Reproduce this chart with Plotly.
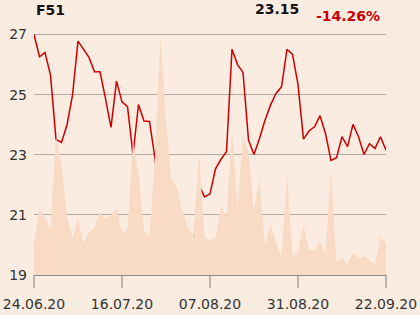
import plotly.graph_objects as go

# Trading-day index positions (65 sessions from 24.06.20 to 22.09.20)
tick_labels = ["24.06.20", "16.07.20", "07.08.20", "31.08.20", "22.09.20"]
tick_index = [0, 16, 32, 48, 64]

price = [27.0, 26.26, 26.40, 25.65, 23.51, 23.41, 23.99, 24.98, 26.78, 26.53,
         26.24, 25.76, 25.76, 24.87, 23.91, 25.45, 24.76, 24.60, 23.00, 24.67,
         24.12, 24.11, 22.88, 21.27, 20.20, 21.00, 19.20, 19.78, 19.91, 19.98,
         21.99, 21.60, 21.70, 22.53, 22.85, 23.10, 26.51, 26.00, 25.74, 23.49,
         23.01, 23.54, 24.15, 24.65, 25.04, 25.26, 26.51, 26.34, 25.34, 23.52,
         23.79, 23.93, 24.30, 23.71, 22.81, 22.90, 23.60, 23.27, 24.01, 23.60,
         23.01, 23.37, 23.21, 23.60, 23.15]

volume = [32, 67, 57, 45, 138, 110, 58, 37, 56, 32,
          43, 47, 63, 56, 60, 67, 42, 45, 133, 103,
          45, 39, 117, 238, 153, 96, 87, 63, 47, 38,
          122, 38, 34, 38, 68, 59, 145, 68, 139, 123,
          65, 97, 30, 51, 32, 18, 99, 18, 23, 50,
          25, 24, 33, 21, 105, 13, 17, 10, 22, 17,
          19, 15, 11, 38, 32]

y_ticks = [19, 21, 23, 25, 27]
idx = list(range(len(price)))
x_range = [0, len(price) - 1]

BG = "#fbece1"
fig = go.Figure()
fig.add_trace(go.Scatter(x=idx, y=volume, yaxis="y2", mode="lines",
                         line=dict(width=0, color="#f8dac5"), fill="tozeroy",
                         fillcolor="#f8dac5", hoverinfo="skip"))
fig.add_trace(go.Scatter(x=idx, y=price, mode="lines",
                         line=dict(color="#cc0000", width=1.5)))

# tick marks below the x axis (paper coordinates derived from the axis range)
for t in tick_index:
    xp = (t - x_range[0]) / (x_range[1] - x_range[0])
    fig.add_shape(type="line", xref="paper", yref="paper", x0=xp, x1=xp,
                  y0=0, y1=-0.053, line=dict(color="#7a7a7a", width=1))

fig.update_layout(
    width=420, height=315, paper_bgcolor=BG, plot_bgcolor=BG,
    margin=dict(l=34, r=34, t=30, b=40, autoexpand=False), showlegend=False,
    font=dict(family="DejaVu Sans", size=14, color="#333333"),
    xaxis=dict(range=x_range, tickvals=tick_index, ticktext=tick_labels,
               showgrid=False, zeroline=False, showline=True, linecolor="#8c8c8c",
               linewidth=1, ticks="outside", ticklen=13,
               tickcolor="rgba(0,0,0,0)", ticklabelstandoff=3,
               automargin=False, tickfont=dict(size=14, color="#333333")),
    yaxis=dict(range=[19, 27.15], tickvals=y_ticks, showgrid=True,
               gridcolor="#b0aaa5", gridwidth=1, zeroline=False, showline=False,
               automargin=False, ticks="", ticklabelstandoff=6,
               tickfont=dict(size=14, color="#333333")),
    yaxis2=dict(range=[0, 245], overlaying="y", visible=False),
    annotations=[
        dict(text="<b>F51</b>", xref="paper", yref="paper", x=0, y=1.0816,
             xanchor="left", yanchor="middle", showarrow=False,
             font=dict(size=14, color="#111111")),
        dict(text="<b>23.15</b>", xref="paper", yref="paper", x=0.7585, y=1.0857,
             xanchor="right", yanchor="middle", showarrow=False,
             font=dict(size=14, color="#111111")),
        dict(text="<b>-14.26%</b>", xref="paper", yref="paper", x=0.9886, y=1.057,
             xanchor="right", yanchor="middle", showarrow=False,
             font=dict(size=14, color="#cc0000")),
    ],
)
fig.write_html("out.html")
